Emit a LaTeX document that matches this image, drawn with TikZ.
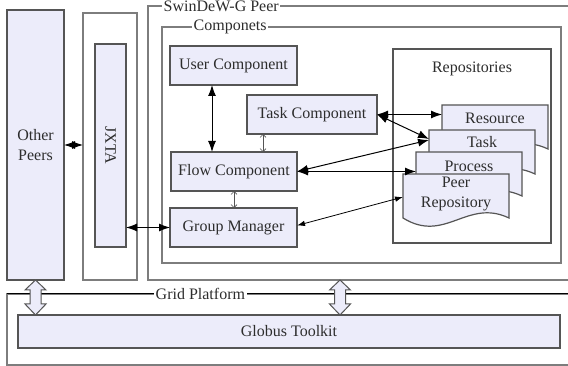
\documentclass[tikz,border=0pt]{standalone}
\usepackage{fontspec}
\setmainfont{Liberation Serif}
\usetikzlibrary{arrows.meta}
\definecolor{boxfill}{RGB}{236,236,250}
\definecolor{boxline}{RGB}{85,85,85}
\definecolor{frameline}{RGB}{125,125,125}
\definecolor{txt}{RGB}{45,45,45}
\tikzset{
  every node/.style={font=\fontsize{16}{20}\selectfont, text=txt},
  comp/.style={draw=boxline, line width=1.2pt, fill=boxfill, anchor=north west,
    inner sep=0pt, outer sep=0pt},
  frame/.style={draw=frameline, line width=1.6pt, fill=white, anchor=north west,
    inner sep=0pt, outer sep=0pt},
  title/.style={fill=white, anchor=west, inner sep=1.5pt},
  link/.style={line width=1pt, {Latex[length=11pt,width=8pt]}-{Latex[length=11pt,width=8pt]}},
  slimlink/.style={line width=0.8pt, {Latex[length=8pt,width=5.5pt]}-{Latex[length=8pt,width=5.5pt]}},
  smalllink/.style={line width=0.6pt, draw=boxline,
    {Straight Barb[length=3pt,width=6pt]}-{Straight Barb[length=3pt,width=6pt]}},
  block/.style={draw=boxline, line width=1pt, fill=boxfill},
  docshape/.style={draw=boxline, line width=1.2pt, fill=boxfill}
}
\begin{document}
\begin{tikzpicture}[x=1pt, y=-1pt]
  \useasboundingbox (0,0) rectangle (568,366);
  \clip (0,0) rectangle (568,366);
  % Frames
  \node[frame, minimum width=568pt, minimum height=71pt] (grid) at (7,294) {};
  \draw[line width=1pt, black] (grid.north west) -- (grid.north east);
  \node[title] (gridlbl) at (154,294) {Grid Platform};
  \node[frame, minimum width=427pt, minimum height=274pt] (swin) at (148,6) {};
  \node[title] (swinlbl) at (162,6) {SwinDeW-G Peer};
  \node[frame, minimum width=399pt, minimum height=236pt] (comps) at (162,27) {};
  \node[title] (compslbl) at (192,27) {Componets};
  \node[frame, minimum width=54pt, minimum height=267pt] (jxtabox) at (83,13) {};
  % Boxes
  \node[comp, minimum width=57pt, minimum height=270pt, align=center] (peers) at (7,10)
    {Other\\Peers};
  \node[comp, minimum width=31pt, minimum height=203pt] (jxta) at (95,44)
    {\rotatebox{-90}{JXTA}};
  \node[comp, minimum width=127pt, minimum height=39pt] (user) at (170,46) {User Component};
  \node[comp, minimum width=130pt, minimum height=39pt] (taskc) at (247,95) {Task Component};
  \node[comp, minimum width=126pt, minimum height=39pt] (flow) at (171,152) {Flow Component};
  \node[comp, minimum width=127pt, minimum height=39pt] (group) at (170,208) {Group Manager};
  \node[comp, minimum width=542pt, minimum height=33pt] (globus) at (18,315) {Globus Toolkit};
  % Repositories
  \node[comp, fill=white, minimum width=158pt, minimum height=194pt] (repos) at (393,49) {};
  \node (reposlbl) at ([yshift=-20pt]repos.north) {Repositories};
  \foreach \n/\x/\y/\dy/\t in {res/442/105/13/Resource, taskd/429/130/12/Task,
      proc/416/152/14/Process, peer/403/174/20/{Peer\\Repository}} {
    \node[anchor=north west, minimum width=106pt, minimum height=44pt, inner sep=0pt,
      outer sep=0pt] (\n) at (\x,\y) {};
    \path[docshape] (\n.north west) -- (\n.north east) -- (\n.south east)
      .. controls ([xshift=-42pt,yshift=20pt]\n.south east)
      and ([xshift=42pt,yshift=-26pt]\n.south west) .. (\n.south west) -- cycle;
    \node[align=center] (\n-text) at ([yshift=-\dy pt]\n.north) {\t};
  }
  % Block arrows
  \coordinate (swintap) at ([xshift=-21.5pt]swin.south);
  \foreach \from in {peers.south, swintap} {
    \draw[block] (\from) -- ++(10.5,10) -- ++(-5,0) -- ++(0,14) -- ++(5,0)
      -- ++(-10.5,11) -- ++(-10.5,-11) -- ++(5,0) -- ++(0,-14) -- ++(-5,0) -- cycle;
  }
  % Connectors
  \draw[link] (peers.east) -- (peers.east -| jxtabox.west);
  \draw[link] (group.west -| jxta.east) -- (group.west);
  \draw[link] ([xshift=-21.5pt]user.south) -- ([xshift=-21.5pt]user.south |- flow.north);
  \draw[smalllink] ([xshift=-49pt]taskc.south) -- ([xshift=-49pt]taskc.south |- flow.north);
  \draw[smalllink] (flow.south) -- (flow.south |- group.north);
  \draw[link] (taskc.east) -- (taskc.east -| res.west);
  \draw[link] (taskc.east) -- ([yshift=-9pt]taskd.north west);
  \draw[link] (flow.east) -- ([yshift=-10pt]taskd.north west);
  \draw[link] (flow.east) -- (flow.east -| proc.west);
  \draw[slimlink] ([yshift=2pt]group.east) -- ([yshift=-23pt]peer.north west);
\end{tikzpicture}
\end{document}
